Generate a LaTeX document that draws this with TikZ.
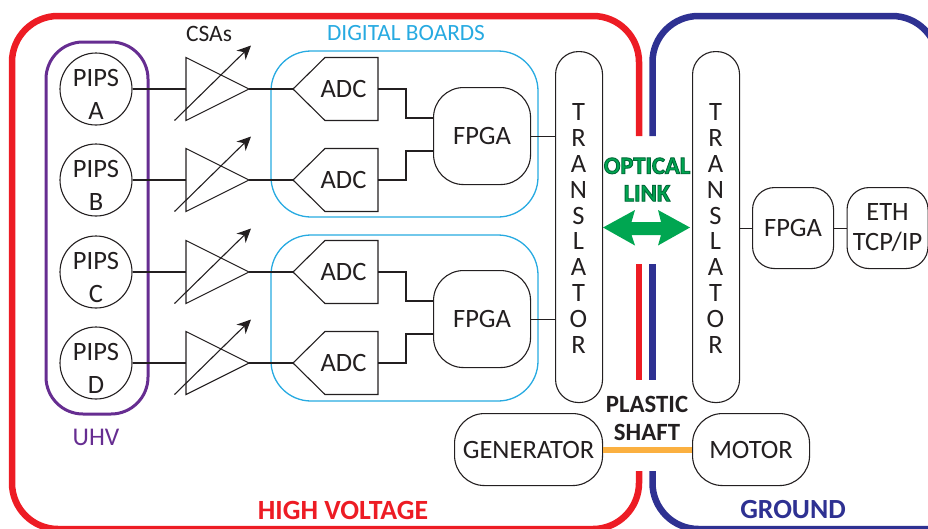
\documentclass[tikz,border=0pt]{standalone}
\usepackage{fontspec}
\setmainfont{Carlito}
\usetikzlibrary{arrows.meta}
\definecolor{ink}{HTML}{231F20}
\definecolor{hvred}{HTML}{ED1C24}
\definecolor{gndblue}{HTML}{2E3192}
\definecolor{uhvpurple}{HTML}{662D91}
\definecolor{boardcyan}{HTML}{27AAE1}
\definecolor{optgreen}{HTML}{00A651}
\definecolor{optdark}{HTML}{006837}
\definecolor{shaftorange}{HTML}{FBB040}
\newcommand{\sz}{\fontsize{26.5}{30}\selectfont}
\newcommand{\outl}{\special{pdf:code 2 Tr 0.9 w 0 0.408 0.216 RG}}
\newcommand{\outloff}{\special{pdf:code 0 Tr}}
\tikzset{
  wire/.style={draw=ink,line width=1.1pt},
  frame/.style={line width=6.5pt,rounded corners=46pt},
  lab/.style={text=ink,font=\sz,inner sep=0pt},
  pips/.style={circle,draw=ink,line width=1.1pt,minimum size=72pt,inner sep=0pt},
  box/.style={draw=ink,line width=1.1pt,text=ink,font=\sz,inner sep=0pt,align=center,anchor=north west},
  amp/.pic={
    \draw[wire,line join=miter] (-63,-31.5) -- (0,0) -- (-63,31.5) -- cycle;
    \draw[wire,-{Stealth[length=14pt,width=13pt]}] (-74.5,31.5) -- (2,-43.5);
  },
  adcshape/.pic={
    \draw[wire,line join=miter] (0,0) -- (32,-31.5) -- (85,-31.5) -- (85,31.5) -- (32,31.5) -- cycle;
    \node[lab] at (50.5,0) {ADC};
  }
}
\begin{document}
\begin{tikzpicture}[x=1pt,y=-1pt]
\useasboundingbox (0,0) rectangle (928,528);
\begin{scope}
\clip (0,0) rectangle (928,528);
% frames
\draw[hvred,frame] (639,136) -- (639,16) -- (12,16) -- (12,529) -- (639,529) -- (639,471);
\draw[hvred,line width=6.5pt] (639,264) -- (639,380);
\draw[gndblue,frame] (652.5,136) -- (652.5,16) -- (938,16) -- (938,200);
\draw[gndblue,line width=6.5pt] (652.5,264) -- (652.5,380);
\draw[gndblue,frame] (652.5,471) -- (652.5,529) -- (940,529);
\end{scope}
% enclosures
\draw[uhvpurple,line width=3pt,rounded corners=37pt] (46,42) rectangle (148,414);
\draw[boardcyan,line width=1.3pt,rounded corners=40pt] (271,51) rectangle (538,217);
\draw[boardcyan,line width=1.3pt,rounded corners=40pt] (271,235) rectangle (538,401);
% detectors
\node[pips] (pa) at (96,89) {};
\node[pips] (pb) at (96,180) {};
\node[pips] (pc) at (96,272) {};
\node[pips] (pd) at (96,363) {};
\node[lab,align=center] at (96,94) {PIPS\\[3pt]A};
\node[lab,align=center] at (96,185) {PIPS\\[3pt]B};
\node[lab,align=center] at (96,277) {PIPS\\[3pt]C};
\node[lab,align=center] at (96,368) {PIPS\\[3pt]D};
% amplifiers
\foreach \n/\y in {a/89,b/180,c/272,d/363}{
  \pic at (249,\y) {amp};
  \coordinate (i\n) at (186,\y);
  \coordinate (o\n) at (249,\y);
  \coordinate (t\n) at (293,\y);
  \pic at (293,\y) {adcshape};
  \coordinate (r\n) at (378,\y);
  \draw[wire] (p\n) -- (i\n);
  \draw[wire] (o\n) -- (t\n);
}
% FPGAs
\node[box,rounded corners=30pt,minimum width=97pt,minimum height=97pt] (f1) at (433,87) {FPGA};
\node[box,rounded corners=30pt,minimum width=97pt,minimum height=97pt] (f2) at (433,270) {FPGA};
\node[box,rounded corners=22pt,minimum width=81pt,minimum height=81pt] (f3) at (752,187) {FPGA};
\node[box,rounded corners=22pt,minimum width=81pt,minimum height=81pt] (eth) at (846.5,187) {ETH\\TCP/IP};
% translators
\node[box,rounded corners=23pt,minimum width=47pt,minimum height=351pt] (tl) at (555,51) {};
\node[box,rounded corners=23pt,minimum width=47pt,minimum height=351pt] (tr) at (692,51) {};
\foreach \m/\x in {tl/578.5,tr/715.5}{
  \node[lab,align=center,font=\fontsize{26.5}{25.9}\selectfont] at (\x,228.5) {T\\R\\A\\N\\S\\L\\A\\T\\O\\R};
}
% wires
\draw[wire] (ra) -- (406,89) -- (406,118) -- (f1.west |- 0,118);
\draw[wire] (rb) -- (406,180) -- (406,151) -- (f1.west |- 0,151);
\draw[wire] (rc) -- (406,272) -- (406,301) -- (f2.west |- 0,301);
\draw[wire] (rd) -- (406,363) -- (406,334) -- (f2.west |- 0,334);
\draw[wire] (f1.east) -- (tl.west |- f1.east);
\draw[wire] (f2.east) -- (tl.west |- f2.east);
\draw[wire] (tr.east |- f3.west) -- (f3.west);
\draw[wire] (f3.east) -- (eth.west);
% power
\node[box,rounded corners=30pt,minimum width=148pt,minimum height=72pt] (gen) at (454,413) {GENERATOR};
\node[box,rounded corners=30pt,minimum width=117pt,minimum height=72pt] (mot) at (692,413) {MOTOR};
\draw[shaftorange,line width=6pt] (gen.east) -- (mot.west);
% optical link
\fill[optgreen] (603,227.5) -- (635,210) -- (631.5,222) -- (661,222) -- (658,210) -- (690,227.5) -- (658,245.5) -- (661,235) -- (631.5,235) -- (635,245.5) -- cycle;
\node[inner sep=0pt,text=optgreen,align=center,font=\bfseries\fontsize{24.5}{27.5}\selectfont] at (647,179.5) {\outl OPTICAL\\\outl LINK\outloff};
% labels
\node[lab,font=\fontsize{23.5}{27}\selectfont] at (209,34) {CSAs};
\node[lab,text=boardcyan,font=\fontsize{23.3}{27}\selectfont] at (406,33) {DIGITAL BOARDS};
\node[lab,text=uhvpurple,font=\fontsize{25.5}{29}\selectfont] at (96,437) {UHV};
\node[lab,align=center,font=\bfseries\fontsize{24.8}{27.5}\selectfont] at (647,418.5) {PLASTIC\\SHAFT};
\node[lab,text=hvred,font=\bfseries\fontsize{27.8}{30}\selectfont] at (343,510) {HIGH VOLTAGE};
\node[lab,text=gndblue,font=\bfseries\fontsize{27.7}{30}\selectfont] at (793,510) {GROUND};
\end{tikzpicture}
\end{document}
